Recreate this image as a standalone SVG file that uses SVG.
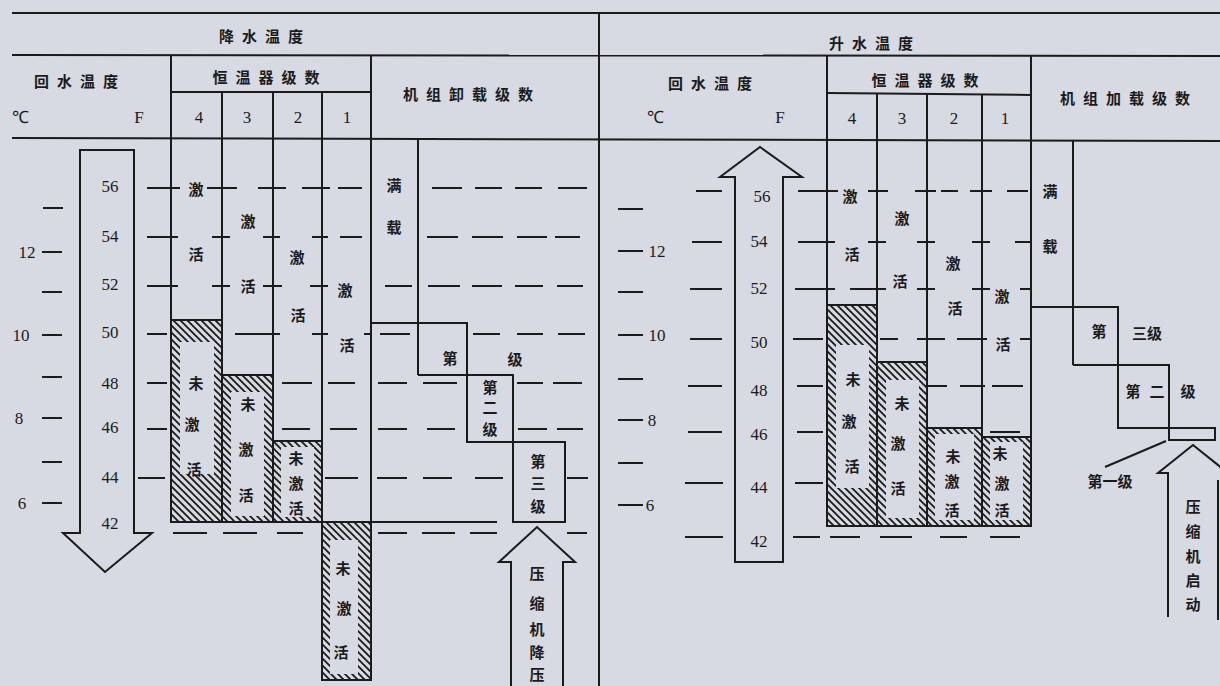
<svg xmlns="http://www.w3.org/2000/svg" width="1220" height="686" viewBox="0 0 1220 686">
<defs>
<style>
.ln{stroke:#1b1b1b;stroke-width:2;fill:none}
.d{stroke:#1b1b1b;stroke-width:2}
.t{font-family:'Noto Sans CJK SC',sans-serif;font-size:15px;font-weight:600;fill:#1b1b1b;text-anchor:middle;dominant-baseline:central}
.h{font-family:'Noto Sans CJK SC',sans-serif;font-size:15px;font-weight:600;fill:#1b1b1b;text-anchor:middle;dominant-baseline:central;letter-spacing:8px}
.n{font-family:'Liberation Serif',serif;font-size:17px;fill:#1b1b1b;text-anchor:middle;dominant-baseline:central}
.hb{fill:url(#hatch);stroke:#1b1b1b;stroke-width:2}
.in{fill:#d7d9e3}
</style>
<pattern id="hatch" width="7" height="7" patternUnits="userSpaceOnUse">
<rect width="7" height="7" fill="#d7d9e3"/>
<path d="M-1,-1 L8,8 M-1,6 L1,8 M6,-1 L8,1" stroke="#1b1b1b" stroke-width="1.8"/>
</pattern>
</defs>
<rect width="1220" height="686" fill="#d7d9e3"/>

<g id="frame">
<line class="ln" x1="12" y1="13" x2="1220" y2="13"/>
<line class="ln" x1="12" y1="55" x2="1220" y2="56"/>
<line class="ln" x1="12" y1="138" x2="1220" y2="141"/>
<line class="ln" x1="599" y1="13" x2="599" y2="686"/>
</g>

<g id="left-header">
<text class="h" x="265" y="35">降水温度</text>
<text class="h" x="80" y="80">回水温度</text>
<text class="n" x="20" y="117">℃</text>
<text class="n" x="139" y="117">F</text>
<text class="h" x="270" y="76">恒温器级数</text>
<line class="ln" x1="171" y1="92" x2="371" y2="92"/>
<text class="n" x="199" y="117">4</text>
<text class="n" x="247" y="117">3</text>
<text class="n" x="298" y="117">2</text>
<text class="n" x="347" y="117">1</text>
<text class="h" x="472" y="93">机组卸载级数</text>
</g>

<g id="left-scale">
<line class="d" x1="43" y1="208" x2="63" y2="208"/>
<line class="d" x1="42" y1="252" x2="62" y2="252"/>
<line class="d" x1="42" y1="292" x2="62" y2="292"/>
<line class="d" x1="42" y1="335" x2="62" y2="335"/>
<line class="d" x1="42" y1="377" x2="62" y2="377"/>
<line class="d" x1="42" y1="418" x2="62" y2="418"/>
<line class="d" x1="42" y1="462" x2="62" y2="462"/>
<line class="d" x1="42" y1="503" x2="62" y2="503"/>
<text class="n" x="27" y="252" font-size="15">12</text>
<text class="n" x="21" y="335" font-size="15">10</text>
<text class="n" x="19" y="418" font-size="15">8</text>
<text class="n" x="22" y="503" font-size="15">6</text>
<path class="ln" d="M80,533 L80,150 L134,150 L134,533 L152,533 L105,572 L63,533 Z"/>
<text class="n" x="110" y="186">56</text>
<text class="n" x="110" y="236">54</text>
<text class="n" x="110" y="284">52</text>
<text class="n" x="110" y="332">50</text>
<text class="n" x="110" y="383">48</text>
<text class="n" x="110" y="427">46</text>
<text class="n" x="110" y="477">44</text>
<text class="n" x="110" y="523">42</text>
</g>

<g id="left-thermostat">
<line class="ln" x1="171" y1="55" x2="171" y2="522"/>
<line class="ln" x1="222" y1="92" x2="222" y2="522"/>
<line class="ln" x1="273" y1="92" x2="273" y2="522"/>
<line class="ln" x1="322" y1="92" x2="322" y2="522"/>
<line class="ln" x1="371" y1="55" x2="371" y2="680"/>
<rect class="hb" x="171" y="320" width="51" height="202"/>
<rect class="in" x="180" y="342" width="34" height="132"/>
<rect class="hb" x="222" y="375" width="51" height="147"/>
<rect class="in" x="231" y="392" width="33" height="124"/>
<rect class="hb" x="273" y="441" width="49" height="81"/>
<rect class="in" x="281" y="447" width="33" height="70"/>
<rect class="hb" x="322" y="522" width="49" height="158"/>
<rect class="in" x="330" y="540" width="28" height="134"/>
<line class="ln" x1="171" y1="522" x2="497" y2="522"/>
<text class="t" x="196" y="188">激</text>
<text class="t" x="196" y="253">活</text>
<text class="t" x="196" y="382">未</text>
<text class="t" x="192" y="423">激</text>
<text class="t" x="194" y="468">活</text>
<text class="t" x="248" y="220">激</text>
<text class="t" x="248" y="285">活</text>
<text class="t" x="248" y="403">未</text>
<text class="t" x="246" y="448">激</text>
<text class="t" x="246" y="494">活</text>
<text class="t" x="297" y="256">激</text>
<text class="t" x="298" y="314">活</text>
<text class="t" x="296" y="457">未</text>
<text class="t" x="296" y="482">激</text>
<text class="t" x="296" y="507">活</text>
<text class="t" x="345" y="289">激</text>
<text class="t" x="347" y="344">活</text>
<text class="t" x="343" y="567">未</text>
<text class="t" x="344" y="607">激</text>
<text class="t" x="341" y="651">活</text>
</g>

<g id="left-unload">
<line class="ln" x1="418" y1="138" x2="418" y2="375"/>
<path class="ln" d="M371,323 L467,323 L467,442 L565,442 L565,522 L513,522 L513,375 L418,375"/>
<text class="t" x="394" y="184">满</text>
<text class="t" x="394" y="226">载</text>
<text class="t" x="450" y="357">第</text>
<text class="t" x="515" y="358">级</text>
<text class="t" x="490" y="386">第</text>
<text class="t" x="490" y="406">二</text>
<text class="t" x="490" y="428">级</text>
<text class="t" x="538" y="460">第</text>
<text class="t" x="538" y="482">三</text>
<text class="t" x="538" y="505">级</text>
</g>

<g id="left-compressor-arrow">
<path class="ln" d="M511,686 L511,562 L499,562 L537,527 L575,562 L563,562 L563,686"/>
<text class="t" x="537" y="572">压</text>
<text class="t" x="537" y="602">缩</text>
<text class="t" x="537" y="628">机</text>
<text class="t" x="537" y="651">降</text>
<text class="t" x="537" y="673">压</text>
</g>

<g id="left-dashes">
<line class="d" x1="147" y1="188" x2="180" y2="188"/><line class="d" x1="207" y1="188" x2="237" y2="188"/><line class="d" x1="258" y1="188" x2="286" y2="188"/><line class="d" x1="302" y1="188" x2="330" y2="188"/><line class="d" x1="338" y1="188" x2="362" y2="188"/>
<line class="d" x1="432" y1="188" x2="462" y2="188"/><line class="d" x1="475" y1="188" x2="502" y2="188"/><line class="d" x1="515" y1="188" x2="542" y2="188"/><line class="d" x1="558" y1="188" x2="587" y2="188"/>
<line class="d" x1="147" y1="237" x2="178" y2="237"/><line class="d" x1="212" y1="237" x2="230" y2="237"/><line class="d" x1="263" y1="237" x2="280" y2="237"/><line class="d" x1="312" y1="237" x2="328" y2="237"/><line class="d" x1="340" y1="237" x2="362" y2="237"/>
<line class="d" x1="427" y1="237" x2="458" y2="237"/><line class="d" x1="472" y1="237" x2="503" y2="237"/><line class="d" x1="517" y1="237" x2="547" y2="237"/><line class="d" x1="555" y1="237" x2="580" y2="237"/>
<line class="d" x1="147" y1="286" x2="178" y2="286"/><line class="d" x1="212" y1="286" x2="230" y2="286"/><line class="d" x1="263" y1="286" x2="282" y2="286"/><line class="d" x1="310" y1="286" x2="328" y2="286"/>
<line class="d" x1="385" y1="286" x2="412" y2="286"/><line class="d" x1="428" y1="286" x2="460" y2="286"/><line class="d" x1="472" y1="286" x2="502" y2="286"/><line class="d" x1="515" y1="286" x2="543" y2="286"/><line class="d" x1="557" y1="286" x2="583" y2="286"/>
<line class="d" x1="147" y1="334" x2="167" y2="334"/><line class="d" x1="235" y1="334" x2="280" y2="334"/><line class="d" x1="312" y1="334" x2="328" y2="334"/><line class="d" x1="364" y1="334" x2="372" y2="334"/>
<line class="d" x1="380" y1="334" x2="410" y2="334"/><line class="d" x1="473" y1="334" x2="500" y2="334"/><line class="d" x1="517" y1="334" x2="543" y2="334"/><line class="d" x1="558" y1="334" x2="585" y2="334"/>
<line class="d" x1="147" y1="383" x2="167" y2="383"/><line class="d" x1="282" y1="383" x2="312" y2="383"/><line class="d" x1="328" y1="383" x2="355" y2="383"/>
<line class="d" x1="378" y1="383" x2="407" y2="383"/><line class="d" x1="423" y1="383" x2="457" y2="383"/><line class="d" x1="517" y1="383" x2="543" y2="383"/><line class="d" x1="553" y1="383" x2="582" y2="383"/>
<line class="d" x1="147" y1="429" x2="167" y2="429"/><line class="d" x1="282" y1="429" x2="310" y2="429"/><line class="d" x1="330" y1="429" x2="357" y2="429"/>
<line class="d" x1="378" y1="429" x2="407" y2="429"/><line class="d" x1="427" y1="429" x2="455" y2="429"/><line class="d" x1="518" y1="429" x2="547" y2="429"/><line class="d" x1="557" y1="429" x2="583" y2="429"/>
<line class="d" x1="138" y1="478" x2="165" y2="478"/><line class="d" x1="325" y1="478" x2="358" y2="478"/>
<line class="d" x1="377" y1="478" x2="407" y2="478"/><line class="d" x1="423" y1="478" x2="452" y2="478"/><line class="d" x1="475" y1="478" x2="503" y2="478"/><line class="d" x1="567" y1="478" x2="588" y2="478"/>
<line class="d" x1="173" y1="533" x2="207" y2="533"/><line class="d" x1="223" y1="533" x2="257" y2="533"/><line class="d" x1="277" y1="533" x2="303" y2="533"/>
<line class="d" x1="378" y1="533" x2="407" y2="533"/><line class="d" x1="422" y1="533" x2="455" y2="533"/><line class="d" x1="470" y1="533" x2="497" y2="533"/><line class="d" x1="567" y1="533" x2="587" y2="533"/>
</g>

<g id="right-header">
<text class="h" x="875" y="42">升水温度</text>
<text class="h" x="714" y="82">回水温度</text>
<text class="n" x="655" y="117">℃</text>
<text class="n" x="780" y="117">F</text>
<text class="h" x="929" y="79">恒温器级数</text>
<line class="ln" x1="827" y1="93" x2="1031" y2="95"/>
<text class="n" x="852" y="118">4</text>
<text class="n" x="902" y="118">3</text>
<text class="n" x="954" y="118">2</text>
<text class="n" x="1005" y="118">1</text>
<text class="h" x="1129" y="97">机组加载级数</text>
</g>

<g id="right-scale">
<line class="d" x1="618" y1="209" x2="643" y2="209"/>
<line class="d" x1="618" y1="251" x2="643" y2="251"/>
<line class="d" x1="618" y1="292" x2="643" y2="292"/>
<line class="d" x1="618" y1="335" x2="643" y2="335"/>
<line class="d" x1="618" y1="379" x2="643" y2="379"/>
<line class="d" x1="618" y1="420" x2="643" y2="420"/>
<line class="d" x1="618" y1="463" x2="643" y2="463"/>
<line class="d" x1="618" y1="505" x2="643" y2="505"/>
<text class="n" x="657" y="251" font-size="15">12</text>
<text class="n" x="657" y="335" font-size="15">10</text>
<text class="n" x="652" y="420" font-size="15">8</text>
<text class="n" x="650" y="505" font-size="15">6</text>
<path class="ln" d="M735,562 L735,177 L720,177 L760,147 L802,177 L783,177 L783,562 Z"/>
<text class="n" x="762" y="196">56</text>
<text class="n" x="759" y="241">54</text>
<text class="n" x="759" y="288">52</text>
<text class="n" x="759" y="342">50</text>
<text class="n" x="759" y="390">48</text>
<text class="n" x="759" y="434">46</text>
<text class="n" x="759" y="487">44</text>
<text class="n" x="759" y="541">42</text>
<line class="d" x1="696" y1="191" x2="722" y2="191"/>
<line class="d" x1="692" y1="242" x2="722" y2="242"/>
<line class="d" x1="690" y1="289" x2="722" y2="289"/>
<line class="d" x1="690" y1="339" x2="722" y2="339"/>
<line class="d" x1="688" y1="386" x2="722" y2="386"/>
<line class="d" x1="688" y1="432" x2="722" y2="432"/>
<line class="d" x1="685" y1="483" x2="723" y2="483"/>
<line class="d" x1="685" y1="537" x2="723" y2="537"/>
</g>

<g id="right-thermostat">
<line class="ln" x1="827" y1="56" x2="827" y2="526"/>
<line class="ln" x1="877" y1="93" x2="877" y2="526"/>
<line class="ln" x1="927" y1="94" x2="927" y2="526"/>
<line class="ln" x1="982" y1="94" x2="982" y2="526"/>
<line class="ln" x1="1031" y1="56" x2="1031" y2="527"/>
<rect class="hb" x="827" y="305" width="50" height="221"/>
<rect class="in" x="836" y="345" width="33" height="143"/>
<rect class="hb" x="877" y="362" width="50" height="164"/>
<rect class="in" x="886" y="380" width="33" height="138"/>
<rect class="hb" x="927" y="428" width="55" height="98"/>
<rect class="in" x="935" y="434" width="39" height="86"/>
<rect class="hb" x="982" y="437" width="49" height="89"/>
<rect class="in" x="990" y="442" width="33" height="78"/>
<text class="t" x="850" y="195">激</text>
<text class="t" x="852" y="253">活</text>
<text class="t" x="853" y="378">未</text>
<text class="t" x="849" y="420">激</text>
<text class="t" x="852" y="465">活</text>
<text class="t" x="902" y="217">激</text>
<text class="t" x="900" y="280">活</text>
<text class="t" x="902" y="402">未</text>
<text class="t" x="898" y="442">激</text>
<text class="t" x="898" y="487">活</text>
<text class="t" x="953" y="262">激</text>
<text class="t" x="955" y="307">活</text>
<text class="t" x="953" y="455">未</text>
<text class="t" x="952" y="480">激</text>
<text class="t" x="952" y="509">活</text>
<text class="t" x="1002" y="295">激</text>
<text class="t" x="1003" y="343">活</text>
<text class="t" x="1000" y="452">未</text>
<text class="t" x="1002" y="482">激</text>
<text class="t" x="1002" y="509">活</text>
</g>

<g id="right-dashes">
<line class="d" x1="798" y1="191" x2="838" y2="191"/><line class="d" x1="868" y1="191" x2="888" y2="191"/><line class="d" x1="915" y1="191" x2="936" y2="191"/><line class="d" x1="941" y1="191" x2="958" y2="191"/><line class="d" x1="970" y1="191" x2="992" y2="191"/><line class="d" x1="1007" y1="191" x2="1028" y2="191"/>
<line class="d" x1="798" y1="242" x2="835" y2="242"/><line class="d" x1="868" y1="242" x2="886" y2="242"/><line class="d" x1="917" y1="242" x2="935" y2="242"/><line class="d" x1="972" y1="242" x2="990" y2="242"/><line class="d" x1="1015" y1="242" x2="1031" y2="242"/>
<line class="d" x1="795" y1="289" x2="835" y2="289"/><line class="d" x1="850" y1="289" x2="886" y2="289"/><line class="d" x1="917" y1="289" x2="935" y2="289"/><line class="d" x1="972" y1="289" x2="990" y2="289"/><line class="d" x1="1020" y1="289" x2="1031" y2="289"/>
<line class="d" x1="793" y1="339" x2="823" y2="339"/><line class="d" x1="880" y1="339" x2="898" y2="339"/><line class="d" x1="917" y1="339" x2="945" y2="339"/><line class="d" x1="957" y1="339" x2="987" y2="339"/><line class="d" x1="1020" y1="339" x2="1031" y2="339"/>
<line class="d" x1="797" y1="386" x2="823" y2="386"/><line class="d" x1="925" y1="386" x2="947" y2="386"/><line class="d" x1="960" y1="386" x2="985" y2="386"/><line class="d" x1="992" y1="386" x2="1023" y2="386"/>
<line class="d" x1="797" y1="432" x2="823" y2="432"/><line class="d" x1="990" y1="432" x2="1020" y2="432"/>
<line class="d" x1="795" y1="483" x2="823" y2="483"/>
<line class="d" x1="793" y1="537" x2="820" y2="537"/><line class="d" x1="830" y1="537" x2="860" y2="537"/><line class="d" x1="880" y1="537" x2="912" y2="537"/><line class="d" x1="940" y1="537" x2="967" y2="537"/><line class="d" x1="990" y1="537" x2="1020" y2="537"/>
</g>

<g id="right-load">
<line class="ln" x1="1073" y1="141" x2="1073" y2="365"/>
<path class="ln" d="M1031,307 L1118,307 L1118,428 L1215,428 L1215,440 L1169,440 L1169,365 L1073,365"/>
<text class="t" x="1050" y="190">满</text>
<text class="t" x="1050" y="245">载</text>
<text class="t" x="1099" y="330">第</text>
<text class="t" x="1147" y="332">三级</text>
<text class="t" x="1133" y="390">第</text>
<text class="t" x="1157" y="390">二</text>
<text class="t" x="1188" y="390">级</text>
<text class="t" x="1110" y="480">第一级</text>
<line class="ln" x1="1105" y1="467" x2="1166" y2="441"/>
</g>

<g id="right-compressor-arrow">
<path class="ln" d="M1168,617 L1168,473 L1158,473 L1193,445 L1228,473 M1218,480 L1218,620"/>
<text class="t" x="1193" y="505">压</text>
<text class="t" x="1193" y="530">缩</text>
<text class="t" x="1193" y="555">机</text>
<text class="t" x="1193" y="579">启</text>
<text class="t" x="1193" y="603">动</text>
</g>
</svg>
